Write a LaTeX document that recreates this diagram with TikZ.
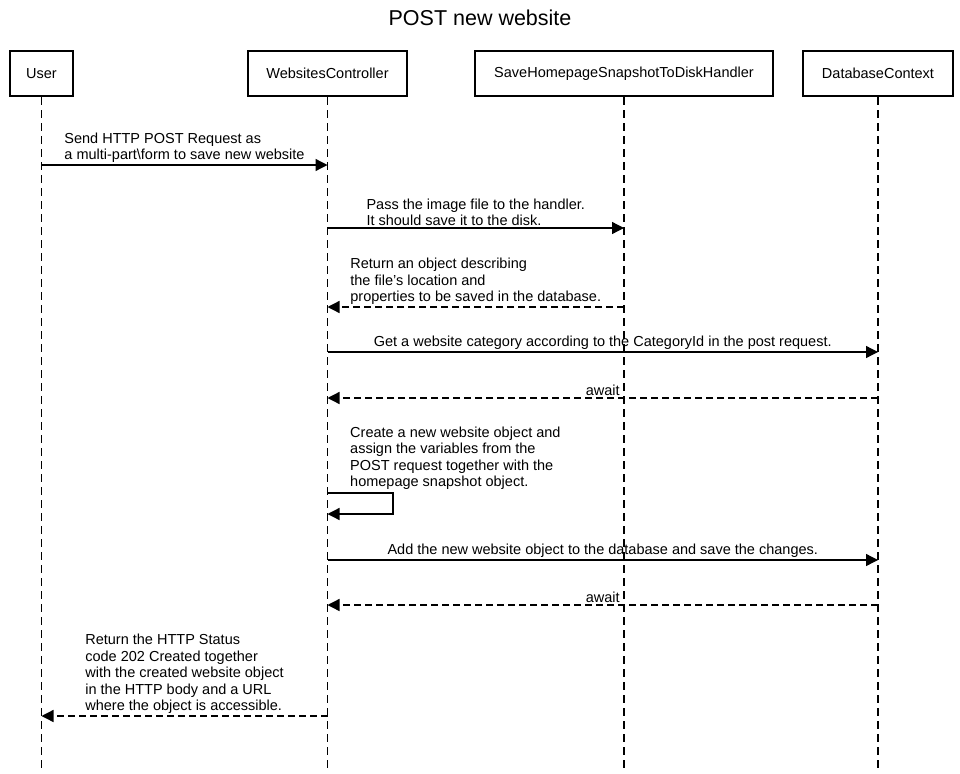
\documentclass[tikz,border=0pt]{standalone}
\usepackage{fontspec}
\setmainfont{Liberation Sans}
\usetikzlibrary{arrows.meta}
\begin{document}
\begin{tikzpicture}[x=1pt,y=-1pt,
  actor/.style={draw, line width=2.5pt, minimum height=45pt, inner sep=0pt, font=\fontsize{14.5}{16.5}\selectfont},
  lifeline/.style={line width=1.3pt, dash pattern=on 8pt off 5pt},
  msg/.style={line width=1.3pt, -{Triangle[length=12pt,width=12pt]}},
  ret/.style={msg, dash pattern=on 7pt off 4pt},
  lbl/.style={inner sep=0pt, align=left, font=\fontsize{14.5}{16.5}\selectfont},
  every node/.style={text=black}]
\useasboundingbox (0,0) rectangle (960,773);
\node[font=\fontsize{21.5}{24}\selectfont] (title) at (480,18) {POST new website};
\node[actor, minimum width=63pt] (user) at (41.5,73.5) {User};
\node[actor, minimum width=159pt] (wc) at (327.5,73.5) {WebsitesController};
\node[actor, minimum width=298pt] (sh) at (624,73.5) {SaveHomepageSnapshotToDiskHandler};
\node[actor, minimum width=150pt] (db) at (878,73.5) {DatabaseContext};
\coordinate (userE) at (41.5,773);
\coordinate (wcE) at (327.5,773);
\coordinate (shE) at (624,773);
\coordinate (dbE) at (878,773);
\draw[lifeline] (user.south) -- (userE);
\draw[lifeline] (wc.south) -- (wcE);
\draw[lifeline] (sh.south) -- (shE);
\draw[lifeline] (db.south) -- (dbE);
% message coordinates
\coordinate (u1) at (41.5,165); \coordinate (w1) at (327.5,165);
\coordinate (w2) at (327.5,228); \coordinate (s2) at (624,228);
\coordinate (s3) at (624,307); \coordinate (w3) at (327.5,307);
\coordinate (w4) at (327.5,352); \coordinate (d4) at (878,352);
\coordinate (d5) at (878,398); \coordinate (w5) at (327.5,398);
\coordinate (w6a) at (327.5,493); \coordinate (w6b) at (327.5,514);
\coordinate (w7) at (327.5,560); \coordinate (d7) at (878,560);
\coordinate (d8) at (878,605); \coordinate (w8) at (327.5,605);
\coordinate (w9) at (327.5,716); \coordinate (u9) at (41.5,716);
\draw[msg] (u1) -- node[lbl, above=1.5pt] {Send HTTP POST Request as\\a multi-part\textbackslash form to save new website} (w1);
\draw[msg] (w2) -- node[lbl, above=1.5pt] {Pass the image file to the handler.\\It should save it to the disk.} (s2);
\draw[ret] (s3) -- node[lbl, above=1.5pt] {Return an object describing\\the file's location and\\properties to be saved in the database.} (w3);
\draw[msg] (w4) -- node[lbl, above=1.5pt] {Get a website category according to the CategoryId in the post request.} (d4);
\draw[ret] (d5) -- node[lbl, above=1.5pt] {await} (w5);
\draw[msg] (w6a) -- ++(65.5,0) |- (w6b);
\node[lbl, anchor=south west] (self) at (350,490) {Create a new website object and\\assign the variables from the\\POST request together with the\\homepage snapshot object.};
\draw[msg] (w7) -- node[lbl, above=1.5pt] {Add the new website object to the database and save the changes.} (d7);
\draw[ret] (d8) -- node[lbl, above=1.5pt] {await} (w8);
\draw[ret] (w9) -- node[lbl, above=1.5pt] {Return the HTTP Status\\code 202 Created together\\with the created website object\\in the HTTP body and a URL\\where the object is accessible.} (u9);
\end{tikzpicture}
\end{document}
